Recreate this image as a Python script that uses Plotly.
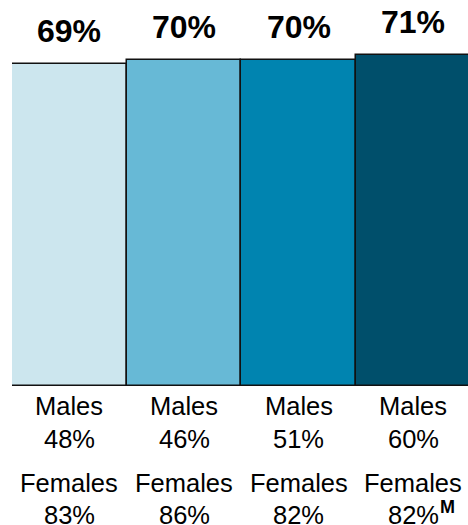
import plotly.graph_objects as go

categories = ["A", "B", "C", "D"]
overall = [69, 70, 70, 71]
males = [48, 46, 51, 60]
females = [83, 86, 82, 82]
colors = ["#cce6ee", "#67b9d6", "#0084b0", "#004f6b"]
font_family = "Liberation Sans, Arial, sans-serif"

xs = list(range(len(categories)))

fig = go.Figure()
fig.add_trace(go.Bar(
    x=xs, y=overall, width=1,
    marker=dict(color=colors, line=dict(color="#111111", width=1.5)),
    hoverinfo="skip",
))

ann = []
for i, v in enumerate(overall):
    ann.append(dict(x=i, y=v, xref="x", yref="y", text=f"<b>{v}%</b>",
                    showarrow=False, yanchor="middle", yshift=33,
                    font=dict(size=32, color="black", family=font_family)))
for i in xs:
    rows = [("Males", -20), (f"{males[i]}%", -52.5), ("Females", -97), (f"{females[i]}%", -129)]
    for txt, sh in rows:
        ann.append(dict(x=i, y=0, xref="x", yref="paper", text=txt, showarrow=False,
                        yanchor="middle", yshift=sh,
                        font=dict(size=25.5, color="black", family=font_family)))
ann.append(dict(x=3, y=0, xref="x", yref="paper", text="<b>M</b>", showarrow=False,
                xanchor="left", yanchor="middle", xshift=25, yshift=-121,
                font=dict(size=18, color="black", family=font_family)))

fig.update_layout(
    width=468, height=525,
    margin=dict(l=12, r=0, t=0, b=139),
    paper_bgcolor="white", plot_bgcolor="white",
    showlegend=False, bargap=0,
    xaxis=dict(range=[-0.5, 3.476], visible=False, fixedrange=True),
    yaxis=dict(range=[0, 82.8], visible=False, fixedrange=True),
    annotations=ann,
)
fig.write_html("out.html", config={"displayModeBar": False})
